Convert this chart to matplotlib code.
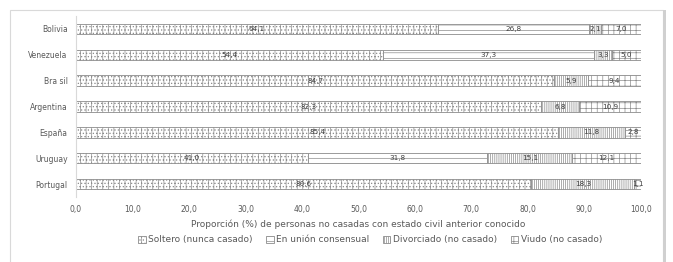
import numpy as np
import matplotlib
matplotlib.use("Agg")
import matplotlib.pyplot as plt
from matplotlib.patches import Rectangle

# datos (de arriba a abajo)
paises = ["Bolivia", "Venezuela", "Brasil", "Argentina", "España", "Uruguay", "Portugal"]
soltero = [64.1, 54.4, 84.7, 82.3, 85.4, 41.0, 80.6]
union = [26.8, 37.3, 0.0, 0.0, 0.0, 31.8, 0.0]
divorciado = [2.1, 3.3, 5.9, 6.8, 11.8, 15.1, 18.3]
viudo = [7.0, 5.0, 9.4, 10.9, 2.8, 12.1, 1.1]

series = [soltero, union, divorciado, viudo]
nombres = ["Soltero (nunca casado)", "En unión consensual",
           "Divorciado (no casado)", "Viudo (no casado)"]
hatches = ["|||.....", "---", "||||||||", "+++"]
ticks = np.arange(0, 101, 10)

plt.rcParams["hatch.color"] = "#a0a0a0"
plt.rcParams["hatch.linewidth"] = 0.5
plt.rcParams["font.family"] = ["DejaVu Sans"]

gris = "#595959"
fig = plt.figure(figsize=(6.73, 2.62), dpi=100)
ax = fig.add_axes([0.113, 0.248, 0.839, 0.691])

# marco del area del grafico
fig.patches.append(Rectangle((10 / 673, -0.1), 653 / 673, 1.06, transform=fig.transFigure,
                             fill=False, edgecolor="#d9d9d9", linewidth=0.8))
fig.patches.append(Rectangle((663 / 673, -0.1), 3 / 673, 1.06, transform=fig.transFigure,
                             facecolor="#d0d0d0", edgecolor="none"))

y = np.arange(len(paises))
left = np.zeros(len(paises))
for vals, nom, h in zip(series, nombres, hatches):
    vals = np.array(vals)
    ax.barh(y, vals, left=left, height=0.4, color="white", edgecolor="#8c8c8c",
            linewidth=0.6, hatch=h, label=nom)
    for yi, l, v in zip(y, left, vals):
        if v > 0:
            ax.text(l + v / 2, yi, f"{v:.1f}".replace(".", ","), ha="center", va="center",
                    fontsize=5.2, color="#404040")
    left += vals

ax.set_ylim(len(paises) - 0.5, -0.5)
ax.set_xlim(0, 100)
ax.set_yticks(y)
ax.set_yticklabels(["Bolivia", "Venezuela", "Bra sil", "Argentina", "España", "Uruguay", "Portugal"],
                   fontsize=5.5, color=gris)
ax.set_xticks(ticks)
ax.set_xticklabels([f"{t:.1f}".replace(".", ",") for t in ticks], fontsize=5.5, color=gris)
ax.tick_params(length=0, pad=6)
for s in ["top", "right", "bottom"]:
    ax.spines[s].set_visible(False)
ax.spines["left"].set_color("#d9d9d9")
ax.spines["left"].set_linewidth(0.8)
ax.set_xlabel("Proporción (%) de personas no casadas con estado civil anterior conocido",
              fontsize=6.5, color=gris, labelpad=4)

fig.legend(loc="center", bbox_to_anchor=(0.55, 0.085), ncol=4, frameon=False, fontsize=6.5,
           labelcolor=gris, handlelength=0.8, handleheight=0.8, handletextpad=0.3,
           columnspacing=1.5)

fig.savefig("out.png", dpi=100)
